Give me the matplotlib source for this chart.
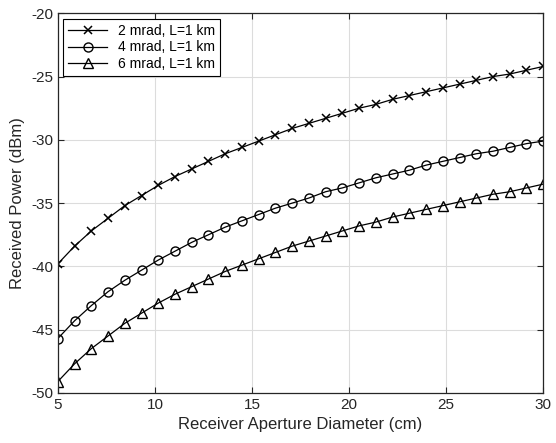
import numpy as np
import matplotlib
matplotlib.use("Agg")
from matplotlib import pyplot as plt

plt.rcParams['font.family'] = ['Liberation Sans', 'DejaVu Sans']
plt.rcParams['axes.unicode_minus'] = False

# aperture diameter (cm), 30 points from 5 to 30
d = np.linspace(5, 30, 30)

p_2mrad = [-39.8, -38.4, -37.2, -36.2, -35.2, -34.4, -33.6, -32.9, -32.3, -31.7,
           -31.1, -30.6, -30.1, -29.6, -29.1, -28.7, -28.3, -27.9, -27.5, -27.2,
           -26.8, -26.5, -26.2, -25.9, -25.6, -25.3, -25.0, -24.8, -24.5, -24.2]
p_4mrad = [-45.7, -44.3, -43.1, -42.0, -41.1, -40.3, -39.5, -38.8, -38.1, -37.5,
           -36.9, -36.4, -35.9, -35.4, -35.0, -34.6, -34.1, -33.8, -33.4, -33.0,
           -32.7, -32.4, -32.0, -31.7, -31.4, -31.1, -30.9, -30.6, -30.3, -30.1]
p_6mrad = [-49.1, -47.7, -46.5, -45.5, -44.5, -43.7, -42.9, -42.2, -41.6, -41.0,
           -40.4, -39.9, -39.4, -38.9, -38.4, -38.0, -37.6, -37.2, -36.8, -36.5,
           -36.1, -35.8, -35.5, -35.2, -34.9, -34.6, -34.3, -34.1, -33.8, -33.5]

labels = ["2 mrad, L=1 km", "4 mrad, L=1 km", "6 mrad, L=1 km"]

fig = plt.figure(figsize=(5.56, 4.43), dpi=100)
ax = fig.add_axes([0.104, 0.113, 0.873, 0.857])

ax.plot(d, p_2mrad, color="black", lw=0.9, marker="x", ms=5.5, mew=1.1, label=labels[0])
ax.plot(d, p_4mrad, color="black", lw=0.9, marker="o", ms=6.5, mfc="none", mew=1.0, label=labels[1])
ax.plot(d, p_6mrad, color="black", lw=0.9, marker="^", ms=6.5, mfc="none", mew=1.0, label=labels[2])

ax.set_xlim(5, 30)
ax.set_ylim(-50, -20)
ax.set_xticks([5, 10, 15, 20, 25, 30])
ax.set_yticks([-50, -45, -40, -35, -30, -25, -20])
ax.grid(True, color="#dcdcdc", lw=0.8)
ax.set_axisbelow(True)
ax.tick_params(direction="in", top=True, right=True, labelsize=11, length=4,
               color="#262626", labelcolor="#262626")
for s in ax.spines.values():
    s.set_color("#262626")
    s.set_linewidth(0.9)

ax.set_xlabel("Receiver Aperture Diameter (cm)", fontsize=12, color="#262626")
ax.set_ylabel("Received Power (dBm)", fontsize=12, color="#262626")

leg = ax.legend(loc="upper left", fontsize=10, fancybox=False, framealpha=1,
                edgecolor="black", borderaxespad=0.4, handlelength=2.8,
                borderpad=0.35, labelspacing=0.2)
leg.get_frame().set_linewidth(0.8)

fig.savefig("out.png", dpi=100)
